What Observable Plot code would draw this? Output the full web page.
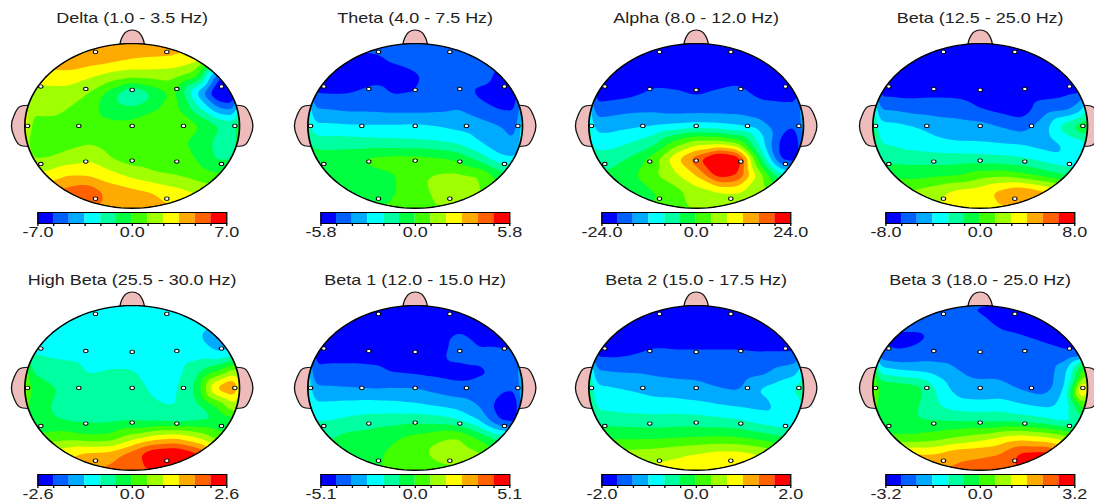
<!DOCTYPE html>
<html><head><meta charset="utf-8">
<script src="https://cdn.jsdelivr.net/npm/d3@7"></script>
<script src="https://cdn.jsdelivr.net/npm/@observablehq/plot@0.6"></script>
<style>
html,body{margin:0;padding:0;background:#fff;overflow:hidden}
#chart{position:relative;width:1094px;height:504px;overflow:hidden;background:#fff}
#chart svg{position:absolute;overflow:visible;background:transparent}
</style></head><body><div id="chart"></div>
<script>
// Rows run from the top of the head to the bottom, columns from left to right.
const gridAxis = [-1,-.8,-.6,-.4,-.2,0,.2,.4,.6,.8,1];
const titles = ["Delta (1.0 - 3.5 Hz)","Theta (4.0 - 7.5 Hz)","Alpha (8.0 - 12.0 Hz)","Beta (12.5 - 25.0 Hz)",
  "High Beta (25.5 - 30.0 Hz)","Beta 1 (12.0 - 15.0 Hz)","Beta 2 (15.0 - 17.5 Hz)","Beta 3 (18.0 - 25.0 Hz)"];
const maxima = [7,5.8,24,8,2.6,5.1,2,3.2];
const centersX = [131.3,415,695.7,979.7,131.3,415,695.7,979.7];
const centersY = [125,125,125,125,387,387,387,387];
const bandColors = ["#0000ff","#0060ff","#00aaff","#00ffff","#00ffa0","#00ff40","#40ff00","#a0ff00","#ffff00","#ffaa00","#ff6000","#ff0000"];
const electrodes = [[-.342,-.899],[.323,-.899],[-.851,-.478],[-.432,-.449],[0,-.437],[.416,-.449],[.832,-.478],
  [-.975,0],[-.497,0],[0,0],[.478,0],[.957,0],
  [-.851,.462],[-.432,.433],[0,.421],[.416,.433],[.832,.462],[-.342,.883],[.323,.883]];
const nose = [[-.115,-.985],[-.1,-1.06],[-.06,-1.14],[0,-1.165],[.06,-1.14],[.1,-1.06],[.115,-.985]];
const earLeft = [[-.97,-.25],[-1.05,-.23],[-1.1,-.13],[-1.125,0],[-1.1,.13],[-1.05,.23],[-.97,.25]];
const earRight = earLeft.map(([x,y])=>[-x,y]);

const deltaGrid = [
[3.5,3.5,3.5,3.5,3.5,3.5,3.5,3.5,3.5,3.5,3.5],
[3.5,3.5,3.5,3.5,3.3,3.0,2.9,2.8,2.3,2.0,2.0],
[2.6,2.6,2.7,2.1,1.5,1.2,1.3,1.2,0.4,-5.0,-6.0],
[1.5,1.5,1.5,1.0,-0.5,-2.4,-0.9,0.3,-3.2,-6.5,-6.5],
[1.2,1.3,1.0,0.3,-0.4,-0.7,-0.1,0.3,-1.5,-3.8,-4.2],
[0.9,0.6,0.6,0.4,0.3,0.4,0.9,0.9,0.2,-0.9,-1.4],
[0.3,0.4,0.6,0.9,0.5,0.3,0.3,0.3,-0.3,-1.3,-1.5],
[1.0,1.0,1.5,1.9,1.0,0.5,0.4,0.3,0.0,-1.2,-1.0],
[2.3,2.3,3.0,2.9,2.4,1.7,1.2,1.0,0.6,0.2,0.0],
[3.9,3.9,4.4,4.8,3.6,3.3,3.0,2.4,1.8,1.5,1.0],
[4.3,4.3,4.3,4.6,3.6,3.5,3.4,3.2,3.0,2.5,2.0]];
const thetaGrid = [
[-4.7,-4.7,-4.7,-4.7,-4.6,-4.5,-4.5,-4.5,-4.5,-4.5,-4.5],
[-5.2,-5.2,-5.3,-5.2,-4.9,-4.6,-4.4,-4.4,-4.5,-4.7,-4.7],
[-5.3,-5.3,-5.4,-5.4,-5.4,-5.2,-4.5,-4.4,-4.5,-5.3,-5.3],
[-5.1,-5.1,-5.05,-4.6,-5.1,-5.0,-4.3,-4.3,-5.3,-5.6,-5.6],
[-3.9,-4.0,-4.2,-4.2,-4.3,-4.3,-4.2,-4.0,-4.5,-5.1,-5.1],
[-2.8,-2.8,-2.9,-2.9,-2.9,-2.8,-3.0,-3.3,-3.6,-4.0,-4.5],
[-1.3,-1.5,-1.5,-1.6,-1.7,-1.8,-1.9,-2.2,-3.0,-3.7,-3.9],
[-0.4,-0.4,-0.2,0.3,0.4,0.4,0.2,-0.2,-1.3,-2.8,-3.0],
[-0.4,-0.4,-0.3,-0.3,-0.1,0.8,1.1,1.2,1.05,-0.5,-1.0],
[-0.3,-0.3,-0.3,-0.3,-0.1,0.6,1.2,1.4,1.1,0.5,0.0],
[-0.3,-0.3,-0.3,-0.3,0.2,0.7,1.0,1.0,1.0,0.5,0.0]];
const alphaGrid = [
[-5.5,-5.5,-5.5,-5.5,-5.5,-5.5,-5.5,-5.5,-5.5,-5.5,-5.5],
[-5.5,-5.5,-5.5,-5.5,-5.5,-5.5,-5.5,-5.5,-5.5,-5.5,-5.5],
[-5.5,-5.5,-5.5,-5.4,-5.4,-5.4,-5.4,-5.3,-5.5,-5.5,-5.5],
[-5.6,-5.5,-5.3,-4.8,-4.9,-5.1,-4.9,-4.7,-5.3,-5.5,-5.5],
[-4.6,-4.4,-4.2,-4.2,-4.4,-4.4,-4.4,-4.4,-4.6,-4.6,-4.6],
[-3.3,-3.4,-3.2,-3.0,-2.8,-2.6,-2.7,-3.0,-3.5,-4.8,-5.0],
[-2.8,-2.5,-2.0,-1.4,0.3,1.5,1.5,0.6,-2.5,-5.5,-5.6],
[-1.4,-1.4,-0.8,0.5,2.8,4.8,7.0,6.0,-0.8,-5.5,-5.6],
[-0.8,-0.8,-0.2,0.9,1.8,3.0,5.6,5.0,1.5,-1.8,-3.0],
[-0.3,-0.3,-0.3,-0.1,0.5,1.6,1.9,2.0,1.6,0.5,0.0],
[-0.3,-0.3,-0.3,0.0,0.5,1.2,1.4,1.4,1.2,0.5,0.0]];
const betaGrid = [
[-5.5,-5.5,-5.5,-5.5,-5.5,-5.5,-5.5,-5.5,-5.5,-5.5,-5.5],
[-5.5,-5.5,-5.5,-5.5,-5.5,-5.5,-5.5,-5.5,-5.5,-5.5,-5.5],
[-5.5,-5.5,-5.5,-5.5,-5.5,-5.5,-5.5,-5.5,-5.5,-5.5,-5.5],
[-5.3,-5.3,-5.3,-5.2,-5.2,-5.4,-5.5,-5.5,-5.4,-5.2,-5.2],
[-4.0,-4.1,-4.4,-4.5,-4.6,-5.0,-5.3,-5.5,-4.4,-4.3,-3.0],
[-2.6,-2.7,-3.0,-3.4,-3.5,-3.6,-4.1,-4.6,-3.4,-1.4,0.3],
[-1.9,-2.2,-2.6,-2.8,-3.0,-3.0,-3.1,-3.2,-3.5,-2.8,-2.5],
[-1.3,-1.3,-1.4,-1.5,-1.5,-1.6,-1.7,-1.9,-2.4,-2.9,-3.0],
[-0.3,-0.3,-0.4,-0.2,-0.1,0.6,0.8,0.3,-0.4,-1.0,-1.5],
[1.2,1.2,1.2,1.7,2.4,2.6,3.4,4.0,3.3,1.5,1.0],
[1.5,1.5,1.5,2.0,2.5,2.7,3.0,3.3,3.0,2.0,1.5]];
const highBetaGrid = [
[-2.5,-2.5,-2.5,-2.5,-2.5,-2.5,-2.5,-2.5,-2.5,-2.5,-2.5],
[-2.5,-2.5,-2.5,-2.5,-2.5,-2.5,-2.5,-2.5,-2.5,-2.6,-2.7],
[-2.4,-2.4,-2.5,-2.5,-2.5,-2.5,-2.5,-2.5,-2.8,-3.8,-3.8],
[-2.0,-2.1,-2.2,-2.3,-2.5,-2.5,-2.5,-2.4,-2.4,-2.9,-2.3],
[-0.9,-1.4,-1.6,-2.1,-1.9,-1.9,-2.4,-2.4,-1.4,0.0,2.0],
[0.1,-0.7,-1.3,-1.6,-1.6,-1.6,-2.2,-2.2,-0.8,3.6,4.8],
[-0.6,-0.9,-1.4,-1.6,-1.6,-1.6,-1.9,-2.1,-1.3,0.3,2.5],
[-0.8,-0.8,-1.1,-1.2,-1.2,-1.1,-1.2,-1.4,-1.2,-1.0,-0.6],
[0.3,0.3,0.6,0.2,0.3,1.5,2.4,2.8,1.9,0.5,0.0],
[2.8,2.8,2.8,3.3,3.4,4.5,6.0,6.3,5.3,3.0,1.5],
[3.3,3.3,3.3,3.8,4.3,4.7,5.3,5.8,5.3,4.0,3.0]];
const beta1Grid = [
[-5.5,-5.5,-5.5,-5.5,-5.5,-5.5,-5.5,-5.5,-5.5,-5.5,-5.5],
[-5.5,-5.5,-5.5,-5.5,-5.5,-5.5,-5.5,-5.4,-5.5,-5.5,-5.5],
[-5.4,-5.4,-5.4,-5.4,-5.4,-5.4,-5.4,-4.7,-5.2,-5.4,-5.4],
[-5.3,-5.3,-5.3,-5.3,-5.3,-5.3,-5.2,-4.7,-4.9,-4.7,-4.8],
[-4.8,-4.7,-4.7,-4.8,-5.1,-5.2,-5.3,-5.4,-5.1,-4.8,-4.6],
[-3.8,-3.9,-4.0,-4.1,-4.0,-4.0,-4.4,-4.7,-4.7,-4.8,-4.9],
[-2.9,-2.8,-2.7,-2.6,-2.7,-2.9,-3.2,-3.5,-4.1,-5.6,-5.6],
[-2.0,-2.0,-1.7,-1.5,-1.4,-1.2,-1.4,-1.9,-3.0,-5.2,-5.5],
[-1.1,-1.1,-0.6,-0.5,-0.1,0.3,0.8,1.1,-0.2,-1.5,-2.0],
[-0.4,-0.4,-0.4,-0.2,0.2,0.5,1.4,1.7,1.2,0.0,-0.5],
[-0.4,-0.4,-0.4,-0.2,0.3,0.5,0.6,0.8,0.8,0.0,-0.5]];
const beta2Grid = [
[-5.5,-5.5,-5.5,-5.5,-5.5,-5.5,-5.5,-5.5,-5.5,-5.5,-5.5],
[-5.5,-5.5,-5.5,-5.5,-5.5,-5.5,-5.5,-5.5,-5.5,-5.5,-5.5],
[-5.5,-5.5,-5.5,-5.4,-5.4,-5.4,-5.4,-5.4,-5.4,-5.4,-5.4],
[-5.2,-5.2,-5.05,-4.7,-4.8,-4.8,-4.8,-4.8,-4.9,-4.9,-4.9],
[-3.8,-4.0,-4.1,-4.2,-4.3,-4.4,-4.5,-4.6,-4.4,-3.6,-3.2],
[-2.7,-2.9,-3.1,-3.5,-3.6,-3.6,-4.0,-4.2,-2.9,-2.4,-1.6],
[-2.1,-2.4,-2.6,-2.6,-2.6,-2.8,-3.0,-3.2,-3.3,-2.7,-2.7],
[-1.4,-1.4,-1.5,-1.6,-1.5,-1.5,-1.7,-1.9,-2.4,-2.8,-3.0],
[-0.2,-0.2,-0.2,-0.2,-0.1,0.0,0.1,0.0,-0.4,-0.9,-1.5],
[1.4,1.4,1.4,1.5,1.8,2.1,2.4,2.4,2.0,1.0,0.5],
[2.2,2.2,2.2,2.3,2.4,2.5,2.5,2.5,2.4,2.0,1.5]];
const beta3Grid = [
[-4.7,-4.7,-4.7,-4.7,-4.7,-5.2,-5.5,-5.5,-5.5,-5.5,-5.5],
[-4.7,-4.7,-4.7,-4.7,-4.6,-4.7,-5.3,-5.4,-5.5,-5.5,-5.5],
[-5.2,-5.2,-5.2,-4.8,-4.5,-4.5,-4.7,-4.9,-5.1,-5.4,-5.5],
[-4.6,-4.9,-4.7,-4.5,-4.5,-4.5,-4.5,-4.6,-4.7,-4.8,-4.8],
[-2.2,-2.7,-3.0,-3.4,-4.0,-4.2,-4.3,-4.5,-4.7,-3.2,1.5],
[-0.3,-0.2,-0.5,-2.2,-3.7,-3.8,-3.7,-4.2,-4.6,-3.0,2.4],
[-0.7,-0.5,-0.8,-2.0,-2.6,-2.7,-2.6,-3.0,-3.3,-2.7,1.0],
[-0.9,-0.9,-0.9,-1.0,-1.1,-1.2,-1.2,-1.4,-1.7,-2.3,-2.7],
[0.2,0.2,0.2,0.5,1.0,1.5,2.2,2.5,2.1,1.3,-0.3],
[3.1,3.1,3.1,3.1,3.8,3.9,4.1,5.4,5.6,3.9,2.5],
[3.8,3.8,3.8,3.8,4.2,4.3,4.4,5.3,5.1,4.0,3.0]];
beta3Grid[5][10] = 6.0;

const allGrids = [deltaGrid,thetaGrid,alphaGrid,betaGrid,highBetaGrid,beta1Grid,beta2Grid,beta3Grid];

const R = 82.35, SX = 1.304;      // the reference image is stretched sideways
const W = 214, H = 210;
const FONT = "Liberation Sans, Arial, sans-serif";
const chart = document.getElementById("chart");

function place(svg, left, top, w, h) {
  svg.setAttribute("preserveAspectRatio","none");
  svg.style.position = "absolute";
  svg.style.left = left + "px";
  svg.style.top = top + "px";
  svg.style.width = w * SX + "px";
  svg.style.height = h + "px";
  svg.style.maxWidth = "none";
  chart.appendChild(svg);
}

const pts = a => a.map(([x,y]) => ({x,y}));
const headOutline = d3.range(0, 361, 3).map(a => ({x:Math.cos(a*Math.PI/180), y:Math.sin(a*Math.PI/180)}));

titles.forEach((title, i) => {
  const max = maxima[i], step = max / 6;
  const edges = d3.range(-6, 7).map(k => k * step);
  const colorScale = {type:"threshold", domain: edges.slice(1, -1), range: bandColors};
  const samples = allGrids[i].flatMap((row, r) => row.map((level, c) => ({x:gridAxis[c], y:gridAxis[r], v:level * step})));
  const contourLevels = [-100 * step, ...edges.slice(1, -1)];

  const head = Plot.plot({
    width: W, height: H, margin: 0,
    x: {domain:[-1.3,1.3], axis:null},
    y: {domain:[1.1,-1.45], axis:null},
    color: colorScale,
    style: {fontFamily: FONT, background:"transparent"},
    marks: [
      Plot.line(pts(earLeft), {x:"x", y:"y", curve:"catmull-rom", fill:"#efbcbc", stroke:"#111", strokeWidth:1}),
      Plot.line(pts(earRight), {x:"x", y:"y", curve:"catmull-rom", fill:"#efbcbc", stroke:"#111", strokeWidth:1}),
      Plot.line(pts(nose), {x:"x", y:"y", curve:"catmull-rom", fill:"#efbcbc", stroke:"#111", strokeWidth:1}),
      Plot.contour(samples, {x:"x", y:"y", value:"v", fill:"value", thresholds:contourLevels, interpolate:"barycentric", pixelSize:1, blur:3}),
      Plot.line(headOutline, {x:"x", y:"y", stroke:"#000", strokeWidth:1.3}),
      Plot.dot(pts(electrodes), {x:"x", y:"y", r:1.7, fill:"#fff", stroke:"#000", strokeWidth:0.8}),
      Plot.text([title], {x:0, y:-1.3, text:d=>d, fontSize:13.8, fill:"#222"})
    ]
  });
  // clip the map to the head, using the plot's own scales
  const sx = head.scale("x"), sy = head.scale("y");
  const ns = "http://www.w3.org/2000/svg";
  const defs = document.createElementNS(ns,"clipPath");
  defs.setAttribute("id","headclip"+i);
  const el = document.createElementNS(ns,"ellipse");
  el.setAttribute("cx", sx.apply(0)); el.setAttribute("cy", sy.apply(0));
  el.setAttribute("rx", Math.abs(sx.apply(1)-sx.apply(0))); el.setAttribute("ry", Math.abs(sy.apply(1)-sy.apply(0)));
  defs.appendChild(el); head.insertBefore(defs, head.firstChild);
  const map = head.querySelector('g[aria-label="contour"]');
  if (map) map.setAttribute("clip-path","url(#headclip"+i+")");
  place(head, centersX[i] - W*SX/2, centersY[i] - 1.45*R, W, H);

  const barW = 144.8, mSide = 24, barTop = centersY[i] + 86.5;
  const bands = bandColors.map((c, k) => ({lo:edges[k], hi:edges[k+1]}));
  const bar = Plot.plot({
    width: barW + 2*mSide, height: 34,
    marginLeft: mSide, marginRight: mSide, marginTop: 0, marginBottom: 23,
    x: {domain:[-max,max], axis:null},
    y: {domain:[0,1], axis:null},
    color: colorScale,
    style: {fontFamily: FONT, background:"transparent"},
    marks: [
      Plot.rect(bands, {x1:"lo", x2:"hi", y1:0, y2:1, fill:"lo"}),
      Plot.frame({stroke:"#000", strokeWidth:1}),
      Plot.axisX({ticks:edges, tickSize:3, tickPadding:0.5, stroke:"#000", fontSize:13.8, fill:"#222",
        tickFormat: v => (Math.abs(v) < 1e-9 || Math.abs(Math.abs(v)-max) < 1e-9) ? v.toFixed(1) : ""})
    ]
  });
  place(bar, centersX[i] - (barW/2 + mSide)*SX, barTop, barW + 2*mSide, 34);
});
</script></body></html>
